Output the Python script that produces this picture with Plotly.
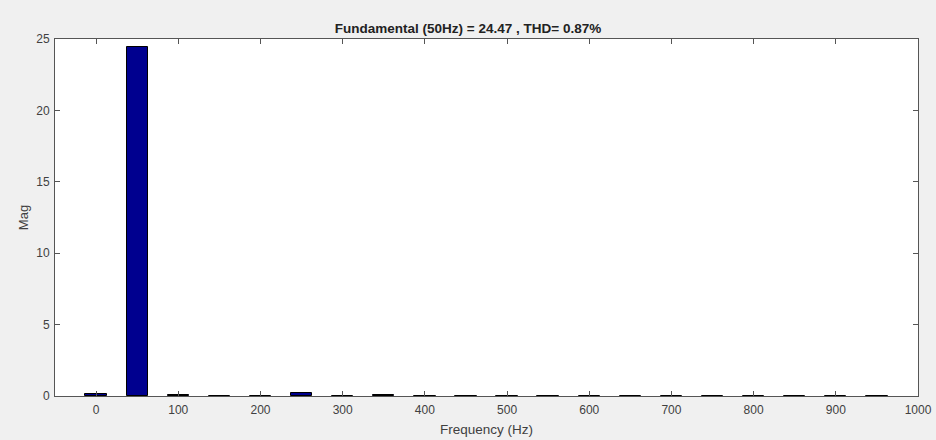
import plotly.graph_objects as go

freqs = [0, 50, 100, 150, 200, 250, 300, 350, 400, 450, 500, 550, 600, 650, 700, 750, 800, 850, 900, 950]
mags = [0.12, 24.47, 0.10, 0.03, 0.02, 0.20, 0.02, 0.05, 0.02, 0.0, 0.0, 0.01, 0.0, 0.0, 0.0, 0.0, 0.0, 0.0, 0.0, 0.0]
xticks = [0, 100, 200, 300, 400, 500, 600, 700, 800, 900, 1000]
yticks = [0, 5, 10, 15, 20, 25]
title = "Fundamental (50Hz) = 24.47 , THD= 0.87%"

fig = go.Figure(go.Bar(
    x=freqs, y=mags, width=26,
    marker=dict(color="#00008f", line=dict(color="black", width=1)),
))

axis_common = dict(
    showgrid=False, zeroline=False, showline=True, linecolor="#555555", linewidth=1,
    mirror="ticks", ticks="inside", ticklen=5, tickcolor="#555555", automargin=False,
    tickfont=dict(family="Liberation Sans, Arial", size=12, color="#404040"),
)
fig.update_layout(
    width=936, height=440,
    margin=dict(l=55, r=18, t=39, b=44),
    paper_bgcolor="#f0f0f0", plot_bgcolor="white",
    title=dict(text="<b>" + title + "</b>", x=0.5, xanchor="center", y=1 - 33/440, yanchor="bottom",
               font=dict(family="Liberation Sans, Arial", size=13.5, color="#222222"), automargin=False),
    xaxis=dict(range=[-50, 1000], tickvals=xticks, ticklabelstandoff=3,
               title=dict(text="Frequency (Hz)", standoff=8, font=dict(family="Liberation Sans, Arial", size=13.5, color="#404040")),
               **axis_common),
    yaxis=dict(range=[0, 25], tickvals=yticks, ticklabelstandoff=2,
               title=dict(text="Mag", standoff=4, font=dict(family="Liberation Sans, Arial", size=13, color="#404040")),
               **axis_common),
    bargap=0, showlegend=False,
)
fig.write_html(
    "out.html",
    config={"displayModeBar": False},
    post_script="document.body.style.margin='0';document.body.style.background='#f0f0f0';document.body.style.overflow='hidden';",
)
